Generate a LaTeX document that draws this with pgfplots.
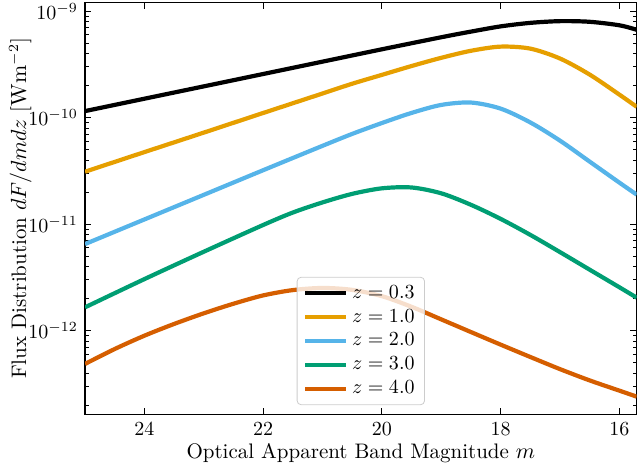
\documentclass[border=0pt]{standalone}
\usepackage{pgfplots}
\pgfplotsset{compat=1.18}

\definecolor{cBlack}{HTML}{000000}
\definecolor{cOrange}{HTML}{E69F00}
\definecolor{cSky}{HTML}{56B4E9}
\definecolor{cGreen}{HTML}{009E73}
\definecolor{cVermil}{HTML}{D55E00}

\newcommand{\labelfont}{\fontsize{10.5}{13}\selectfont}

\begin{document}
\begin{tikzpicture}
\begin{axis}[
  scale only axis,
  width=275.8pt, height=205.7pt,
  at={(0pt,0pt)}, anchor=south west,
  ymode=log,
  x dir=reverse,
  xmin=15.71, xmax=25,
  ymin=1.65e-13, ymax=1.2e-9,
  xtick={16,18,20,22,24},
  minor x tick num=0,
  tick align=inside,
  major tick length=3.2pt,
  minor tick length=2pt,
  every tick/.style={black, line width=0.5pt},
  axis line style={line width=0.55pt},
  xlabel={Optical Apparent Band Magnitude $m$},
  ylabel={Flux Distribution $dF/dmdz$ [$\mathrm{Wm^{-2}}$]},
  xticklabel style={yshift=-0.5pt},
  xlabel style={font=\labelfont, at={(axis description cs:0.5,0)}, anchor=base, yshift=-22.2pt},
  ylabel style={font=\labelfont, at={(axis description cs:-0.0961,0.5)}, anchor=south, inner sep=0pt},
  legend cell align=left,
  legend style={at={(0.5,0.022)}, anchor=south,
    draw=black!20, fill=white, fill opacity=0.8, draw opacity=1, text opacity=1,
    rounded corners=2pt, font=\normalsize},
  legend image code/.code={\draw[#1, line width=2pt] (0pt,0pt) -- (20.5pt,0pt);},
  every axis plot/.append style={line width=2.1pt, smooth, mark=none},
]
% z = 0.3
\addplot[cBlack] coordinates {
 (25,1.153e-10) (24,1.507e-10) (23,1.968e-10) (22,2.570e-10) (21,3.357e-10)
 (20,4.385e-10) (19,5.689e-10) (18.5,6.427e-10) (18,7.194e-10) (17.5,7.762e-10)
 (17,8.054e-10) (16.5,7.943e-10) (16,7.362e-10) (15.71,6.683e-10)
};
\addlegendentry{$z = 0.3$}
% z = 1.0
\addplot[cOrange] coordinates {
 (25,3.112e-11) (24,4.753e-11) (23,7.244e-11) (22,1.107e-10) (21,1.687e-10)
 (20.5,2.084e-10) (20,2.523e-10) (19.5,3.055e-10) (19,3.648e-10) (18.5,4.246e-10)
 (18,4.645e-10) (17.5,4.446e-10) (17,3.589e-10) (16.5,2.535e-10) (16,1.644e-10)
 (15.71,1.265e-10)
};
\addlegendentry{$z = 1.0$}
% z = 2.0
\addplot[cSky] coordinates {
 (25,6.516e-12) (24,1.109e-11) (23,1.888e-11) (22,3.214e-11) (21,5.445e-11)
 (20.5,7.047e-11) (20,8.913e-11) (19.5,1.109e-10) (19,1.318e-10) (18.5,1.387e-10)
 (18,1.216e-10) (17.5,9.016e-11) (17,6.081e-11) (16.5,3.864e-11) (16,2.455e-11)
 (15.71,1.897e-11)
};
\addlegendentry{$z = 2.0$}
% z = 3.0
\addplot[cGreen] coordinates {
 (25,1.660e-12) (24,3.055e-12) (23,5.521e-12) (22,9.840e-12) (21.5,1.288e-11)
 (21,1.603e-11) (20.5,1.928e-11) (20,2.173e-11) (19.5,2.213e-11)
 (19,1.950e-11) (18.5,1.521e-11) (18,1.122e-11) (17.5,7.943e-12) (17,5.470e-12)
 (16.5,3.741e-12) (16,2.559e-12) (15.71,2.046e-12)
};
\addlegendentry{$z = 3.0$}
% z = 4.0
\addplot[cVermil] coordinates {
 (25,4.887e-13) (24.5,6.745e-13) (24,8.995e-13) (23.5,1.159e-12) (23,1.459e-12)
 (22.5,1.795e-12) (22,2.148e-12) (21.5,2.410e-12) (21,2.523e-12) (20.5,2.421e-12)
 (20,2.113e-12) (19.5,1.679e-12) (19,1.279e-12) (18.5,9.727e-13) (18,7.413e-13)
 (17.5,5.675e-13) (17,4.365e-13) (16.5,3.420e-13) (16,2.742e-13) (15.71,2.410e-13)
};
\addlegendentry{$z = 4.0$}
\end{axis}
\pgfresetboundingbox
\path[use as bounding box] (-42.5pt,-28pt) rectangle (275.95pt,207.05pt);
\end{tikzpicture}
\end{document}
